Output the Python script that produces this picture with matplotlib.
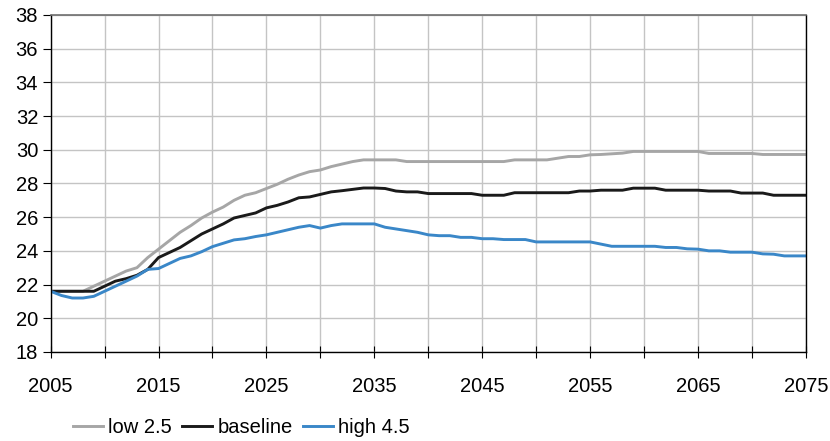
import matplotlib.pyplot as plt
import numpy as np

plt.rcParams['font.family'] = ['Liberation Sans', 'DejaVu Sans']

years = np.arange(2005, 2076)

low = [21.6, 21.6, 21.6, 21.6, 21.9, 22.2, 22.5, 22.8, 23.0, 23.6,
       24.1, 24.6, 25.1, 25.5, 25.95, 26.3, 26.6, 27.0, 27.3, 27.45,
       27.7, 27.95, 28.25, 28.5, 28.7, 28.8, 29.0, 29.15, 29.3, 29.4,
       29.4, 29.4, 29.4, 29.3, 29.3, 29.3, 29.3, 29.3, 29.3, 29.3,
       29.3, 29.3, 29.3, 29.4, 29.4, 29.4, 29.4, 29.5, 29.6, 29.6,
       29.7, 29.72, 29.76, 29.8, 29.9, 29.9, 29.9, 29.9, 29.9, 29.9,
       29.9, 29.78, 29.78, 29.78, 29.78, 29.78, 29.72, 29.72, 29.72, 29.72,
       29.72]

baseline = [21.6, 21.6, 21.6, 21.6, 21.6, 21.9, 22.2, 22.35, 22.55, 22.9,
            23.6, 23.9, 24.2, 24.6, 25.0, 25.3, 25.6, 25.95, 26.1, 26.25,
            26.55, 26.7, 26.9, 27.15, 27.2, 27.35, 27.5, 27.57, 27.65, 27.73,
            27.73, 27.7, 27.55, 27.5, 27.5, 27.4, 27.4, 27.4, 27.4, 27.4,
            27.3, 27.3, 27.3, 27.45, 27.45, 27.45, 27.45, 27.45, 27.45, 27.55,
            27.55, 27.6, 27.6, 27.6, 27.72, 27.72, 27.72, 27.6, 27.6, 27.6,
            27.6, 27.55, 27.55, 27.55, 27.43, 27.43, 27.43, 27.3, 27.3, 27.3,
            27.3]

high = [21.6, 21.35, 21.2, 21.2, 21.3, 21.6, 21.9, 22.2, 22.5, 22.9,
        22.95, 23.25, 23.55, 23.7, 23.95, 24.25, 24.45, 24.65, 24.72, 24.85,
        24.95, 25.1, 25.25, 25.4, 25.5, 25.35, 25.5, 25.6, 25.6, 25.6,
        25.6, 25.4, 25.3, 25.2, 25.1, 24.95, 24.9, 24.9, 24.8, 24.8,
        24.72, 24.72, 24.67, 24.67, 24.67, 24.53, 24.53, 24.53, 24.53, 24.53,
        24.53, 24.4, 24.27, 24.27, 24.27, 24.27, 24.27, 24.2, 24.2, 24.12,
        24.1, 24.0, 24.0, 23.92, 23.92, 23.92, 23.82, 23.8, 23.7, 23.7,
        23.7]

fig = plt.figure(figsize=(8.3, 4.41), dpi=100)
ax = fig.add_axes([0.061, 0.202, 0.91, 0.764])

ax.plot(years, low, color='#a6a6a6', lw=2.1, label='low 2.5')
ax.plot(years, baseline, color='#1a1a1a', lw=2.1, label='baseline')
ax.plot(years, high, color='#3a87c8', lw=2.1, label='high 4.5')

ax.set_xlim(2005, 2075)
ax.set_ylim(18, 38)
ax.set_yticks(np.arange(18, 39, 2))
ax.set_xticks(np.arange(2005, 2076, 5))
ax.set_xticklabels([str(y) if (y - 2005) % 10 == 0 else '' for y in range(2005, 2076, 5)])
ax.grid(True, color='#c4c4c4', lw=1.0)
ax.set_axisbelow(True)

ax.spines['top'].set_color('#6e6e6e')
ax.spines['top'].set_linewidth(1.2)
for s in ['left', 'bottom', 'right']:
    ax.spines[s].set_color('black')
    ax.spines[s].set_linewidth(1.0)

ax.tick_params(axis='x', direction='inout', length=8, pad=14, labelsize=14.5)
ax.tick_params(axis='y', direction='out', length=6, pad=3, labelsize=14.5)

fig.legend(loc='center left', bbox_to_anchor=(0.088, 0.03), ncol=3, frameon=False,
           fontsize=14.5, handlelength=1.5, handletextpad=0.25, columnspacing=0.5,
           borderpad=0, borderaxespad=0)

fig.savefig('out.png', dpi=100)
